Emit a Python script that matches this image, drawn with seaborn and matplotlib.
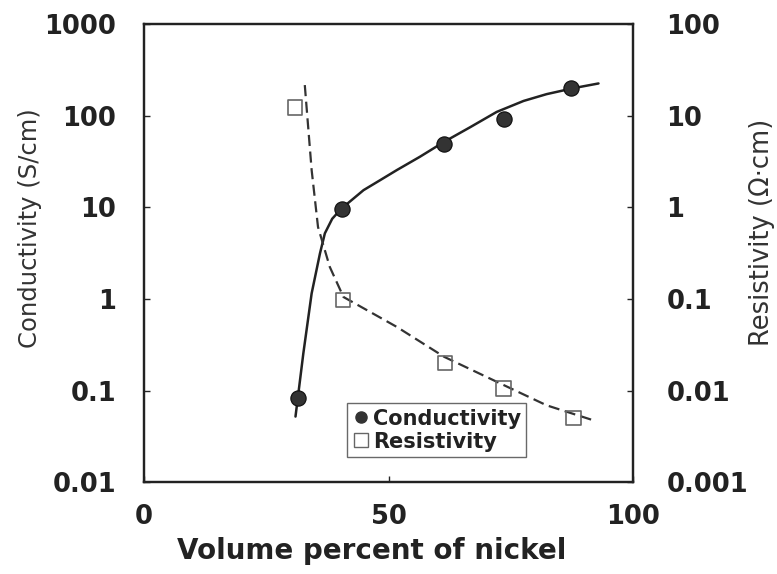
import matplotlib
matplotlib.use("Agg")
import matplotlib.pyplot as plt
import seaborn as sns
from matplotlib.lines import Line2D

# measured points
nickel_pts = [31.5, 40.4, 61.4, 73.5, 87.3]
conductivity_pts = [0.083, 9.7, 49, 92, 199]
res_nickel_pts = [30.9, 40.7, 61.5, 73.5, 87.8]
resistivity_pts = [12.3, 0.097, 0.02, 0.0105, 0.005]

# fitted curves
cond_curve_x = [31.0, 32.6, 34.3, 36.0, 37.0, 38.5, 40.4, 44.9, 48.3, 51.7,
                56.4, 61.4, 66.7, 72.1, 77.6, 82.3, 87.8, 92.9]
cond_curve_y = [0.052, 0.254, 1.15, 3.14, 5.2, 7.5, 9.7, 15.4, 19.8, 25.5,
                35.6, 52, 75, 110, 145, 172, 200, 225]
res_curve_x = [32.9, 34.3, 35.6, 38.0, 40.8, 51.7, 61.4, 73.5, 82.3, 91.5]
res_curve_y = [21.6, 2.55, 0.61, 0.224, 0.105, 0.0495, 0.0233, 0.0115, 0.0069, 0.0048]

left_ticks = [0.01, 0.1, 1, 10, 100, 1000]
left_labels = ["0.01", "0.1", "1", "10", "100", "1000"]
right_ticks = [0.001, 0.01, 0.1, 1, 10, 100]
right_labels = ["0.001", "0.01", "0.1", "1", "10", "100"]
x_ticks = [0, 50, 100]
x_labels = ["0", "50", "100"]

sns.set_theme(style="white")
plt.rcParams["font.family"] = ["DejaVu Sans"]

bold_font = {"family": "DejaVu Sans", "weight": "bold", "color": "#222222"}

fig = plt.figure(figsize=(7.77, 5.74), dpi=100)
ax = fig.add_axes([0.185, 0.160, 0.630, 0.798])
ax2 = ax.twinx()

sns.lineplot(x=cond_curve_x, y=cond_curve_y, ax=ax, color="#222222",
             linewidth=1.8, estimator=None, sort=False)
sns.scatterplot(x=nickel_pts, y=conductivity_pts, ax=ax, color="#333333",
                s=120, marker="o", edgecolor="#111111", zorder=5)

sns.lineplot(x=res_curve_x, y=res_curve_y, ax=ax2, color="#333333",
             linewidth=1.6, estimator=None, sort=False, linestyle=(0, (5, 2.5)))
sns.scatterplot(x=res_nickel_pts, y=resistivity_pts, ax=ax2, marker="s",
                s=110, facecolor="none", edgecolor="#666666", linewidth=1.2,
                zorder=5)

ax.set_yscale("log")
ax2.set_yscale("log")
ax.set_xlim(0, 100)
ax.set_ylim(0.01, 1000)
ax2.set_ylim(0.001, 100)

ax.set_xticks(x_ticks)
ax.set_xticklabels(x_labels, fontdict=bold_font, fontsize=18.5)
ax.set_yticks(left_ticks)
ax.set_yticklabels(left_labels, fontdict=bold_font, fontsize=18.5)
ax.minorticks_off()
ax2.set_yticks(right_ticks)
ax2.set_yticklabels(right_labels, fontdict=bold_font, fontsize=18.5)
ax2.minorticks_off()

ax.tick_params(axis="both", direction="in", length=4, width=1, pad=20,
               left=True, bottom=True)
ax.tick_params(axis="x", pad=16)
ax2.tick_params(axis="y", direction="in", length=4, width=1, pad=24, right=True)

ax.set_xlabel("Volume percent of nickel", fontdict=bold_font, fontsize=20)
ax.xaxis.label.set_va("center")
ax.xaxis.set_label_coords(0.465, -0.151)

ax.set_ylabel("Conductivity (S/cm)", fontsize=17.5, color="#333333")
ax.yaxis.label.set_va("center")
ax.yaxis.set_label_coords(-0.233, 0.555)
ax2.set_ylabel("Resistivity (Ω·cm)", fontsize=18.5, color="#333333",
               rotation=90)
ax2.yaxis.label.set_va("center")
ax2.yaxis.set_label_coords(1.264, 0.546)

for a in (ax, ax2):
    for sp in a.spines.values():
        sp.set_visible(True)
        sp.set_color("#222222")
        sp.set_linewidth(1.6)

handles = [
    Line2D([], [], marker="o", linestyle="none", color="#333333",
           markersize=8),
    Line2D([], [], marker="s", linestyle="none", markerfacecolor="none",
           markeredgecolor="#666666", markersize=10),
]
leg = ax.legend(handles, ["Conductivity", "Resistivity"], loc="lower left",
                bbox_to_anchor=(0.415, 0.055), frameon=True,
                prop={"family": "DejaVu Sans", "weight": "bold", "size": 15},
                fancybox=False, edgecolor="#444444", handletextpad=0.1,
                borderpad=0.25, handlelength=0.9, labelspacing=0.15,
                borderaxespad=0)
for t in leg.get_texts():
    t.set_color("#222222")
leg.get_frame().set_linewidth(1.0)

plt.savefig("out.png", dpi=100)
